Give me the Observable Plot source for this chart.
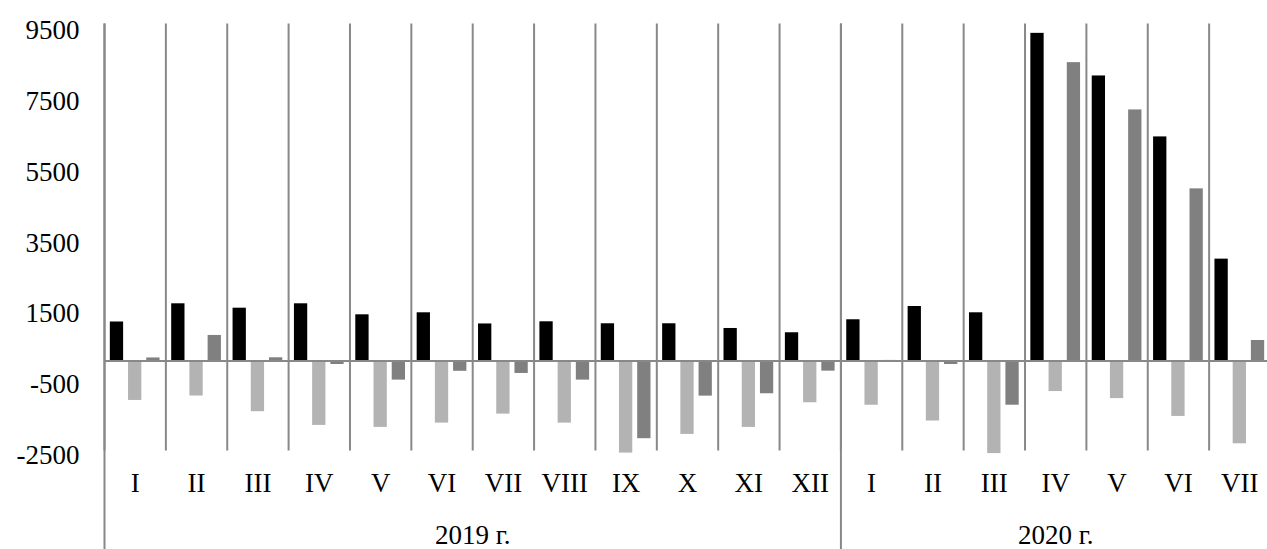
<!DOCTYPE html>
<html>
<head>
<meta charset="utf-8">
<script src="https://cdn.jsdelivr.net/npm/d3@7"></script>
<script src="https://cdn.jsdelivr.net/npm/@observablehq/plot@0.6"></script>
<style>
  html, body { margin: 0; padding: 0; background: #fff; overflow: hidden; }
</style>
</head>
<body>
<div id="chart"></div>
<script>
// ---- data ----
const years = ["2019 г.", "2020 г."];
const months2019 = ["I", "II", "III", "IV", "V", "VI", "VII", "VIII", "IX", "X", "XI", "XII"];
const months2020 = ["I", "II", "III", "IV", "V", "VI", "VII"];
const seriesNames = ["series1", "series2", "series3"];
const series1 = [1100, 1614, 1490, 1614, 1303, 1360, 1045, 1106, 1050, 1050, 917, 796,
                 1163, 1538, 1360, 9250, 8047, 6326, 2875];
const series2 = [-1115, -990, -1433, -1820, -1876, -1755, -1501, -1755, -2601, -2074, -1876, -1180,
                 -1250, -1696, -2616, -864, -1063, -1566, -2339];
const series3 = [85, 720, 90, -100, -541, -292, -353, -541, -2195, -993, -926, -288,
                 15, -100, -1250, 8423, 7088, 4859, 578];
const yTicks = [-2500, -500, 1500, 3500, 5500, 7500, 9500];
const seriesColors = ["#000000", "#b3b3b3", "#808080"];

// ---- build table ----
const keys = [
  ...months2019.map(m => years[0] + "|" + m),
  ...months2020.map(m => years[1] + "|" + m)
];
const allSeries = [series1, series2, series3];
const rows = [];
keys.forEach((k, i) => {
  seriesNames.forEach((s, j) => rows.push({cat: k, series: s, value: allSeries[j][i]}));
});
const firstOfYear = [keys[0], keys[months2019.length]];
const yearLabel2019 = [{label: years[0], fx: keys[months2019.length / 2]}];
const yearLabel2020 = [{label: years[1], fx: keys[months2019.length + Math.floor(months2020.length / 2)]}];

const FONT = "Liberation Serif";
const GRID = "#888888";

const chart = Plot.plot({
  width: 1267,
  height: 549,
  marginTop: 24,
  marginBottom: 100,
  marginLeft: 104,
  marginRight: -3,
  style: {fontFamily: FONT, fontSize: "27px", background: "#fff", color: "#000"},
  fx: {domain: keys, padding: 0, round: false, label: null},
  x: {domain: seriesNames, paddingInner: 0.27, paddingOuter: 0.32, round: false, axis: null},
  y: {domain: [-2500, 9500], label: null},
  color: {domain: seriesNames, range: seriesColors},
  marks: [
    Plot.frame({anchor: "left", stroke: GRID, strokeWidth: 2}),
    Plot.frame({anchor: "left", stroke: GRID, strokeWidth: 2, insetBottom: -100, fx: () => firstOfYear[0]}),
    Plot.frame({anchor: "left", stroke: GRID, strokeWidth: 2, insetBottom: -100, fx: () => firstOfYear[1]}),
    Plot.barY(rows, {fx: "cat", x: "series", y: "value", fill: "series"}),
    Plot.ruleY([0], {stroke: GRID, strokeWidth: 2}),
    Plot.axisY(yTicks, {
      tickSize: 0, tickPadding: 25, dy: 6, fontSize: 27, fontFamily: FONT,
      tickFormat: d => String(d), label: null
    }),
    Plot.axisFx({
      anchor: "bottom", tickSize: 0, tickPadding: 23, fontSize: 27, fontFamily: FONT,
      tickFormat: d => d.split("|")[1], label: null
    }),
    Plot.text(yearLabel2019, {
      fx: "fx", text: "label", frameAnchor: "bottom-left", textAnchor: "middle",
      lineAnchor: "middle", dy: 86, fontSize: 27, fontFamily: FONT, fill: "#000"
    }),
    Plot.text(yearLabel2020, {
      fx: "fx", text: "label", frameAnchor: "bottom", textAnchor: "middle",
      lineAnchor: "middle", dy: 86, fontSize: 27, fontFamily: FONT, fill: "#000"
    })
  ]
});
document.getElementById("chart").appendChild(chart);
</script>
</body>
</html>
